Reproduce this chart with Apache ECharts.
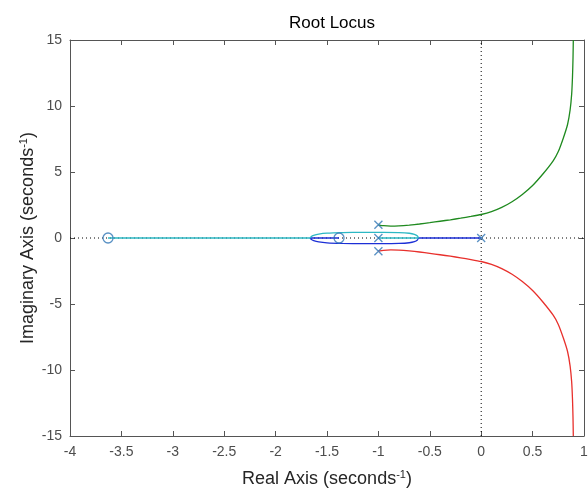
<!DOCTYPE html>
<html>
<head>
<meta charset="utf-8">
<script src="https://cdn.jsdelivr.net/npm/echarts@6/dist/echarts.min.js"></script>
<style>
  html, body { margin: 0; padding: 0; background: #fff; }
  #chart { width: 588px; height: 491px; }
</style>
</head>
<body>
<div id="chart"></div>
<script>
// Open-loop poles and zeros
const poleRe = [0, -1, -1, -1];
const poleIm = [0, 0, 1, -1];
const zeroRe = [-3.63, -1.383];
const zeroIm = [0, 0];

// Branch 1 (blue): pole at 0 -> breakaway -> lower loop -> zero at -1.383
const blueRe = [0, -0.61, -0.62, -0.65, -0.7, -0.8, -0.95, -1.15, -1.35, -1.5, -1.58, -1.63, -1.655, -1.665, -1.383];
const blueIm = [0, 0, -0.15, -0.28, -0.36, -0.41, -0.43, -0.43, -0.41, -0.37, -0.3, -0.2, -0.1, 0, 0];

// Branch 4 (cyan): pole at -1 -> breakaway -> upper loop -> zero at -3.63
const cyanRe = [-1, -0.61, -0.62, -0.65, -0.7, -0.8, -0.95, -1.15, -1.35, -1.5, -1.58, -1.63, -1.655, -1.665, -3.63];
const cyanIm = [0, 0, 0.15, 0.28, 0.36, 0.41, 0.43, 0.43, 0.41, 0.37, 0.3, 0.2, 0.1, 0, 0];

// Branch 2 (green): pole at -1+j -> vertical asymptote
const greenRe = [-1, -0.95, -0.88, -0.8, -0.7, -0.6, -0.5, -0.4, -0.3, -0.2, -0.1, 0, 0.1, 0.2, 0.3, 0.4, 0.5, 0.6, 0.7, 0.75, 0.8, 0.84, 0.865, 0.88, 0.888, 0.893, 0.896];
const greenIm = [1, 0.93, 0.9, 0.92, 0.98, 1.06, 1.16, 1.27, 1.38, 1.5, 1.63, 1.78, 2.0, 2.32, 2.75, 3.3, 3.98, 4.85, 5.85, 6.55, 7.6, 8.6, 9.7, 10.9, 12.2, 13.6, 15];

// Branch 3 (red): pole at -1-j -> vertical asymptote
const redRe = [-1, -0.95, -0.88, -0.8, -0.7, -0.6, -0.5, -0.4, -0.3, -0.2, -0.1, 0, 0.1, 0.2, 0.3, 0.4, 0.5, 0.6, 0.7, 0.75, 0.8, 0.84, 0.865, 0.88, 0.888, 0.893, 0.896];
const redIm = [-1, -0.93, -0.9, -0.92, -0.98, -1.06, -1.16, -1.27, -1.38, -1.5, -1.63, -1.78, -2.0, -2.32, -2.75, -3.3, -3.98, -4.85, -5.85, -6.55, -7.6, -8.6, -9.7, -10.9, -12.2, -13.6, -15];

const xMin = -4, xMax = 1, xStep = 0.5;
const yMin = -15, yMax = 15, yStep = 5;

const zip = (a, b) => a.map((v, i) => [v, b[i]]);

const axisColor = '#555';
const labelColor = '#4d4d4d';
const markColor = '#2f76b5';
const font = 'Liberation Sans, Arial, Helvetica, sans-serif';

const supRich = {
  sup: { fontSize: 11, fontFamily: font, color: '#262626', padding: [0, 0, 9, 0] }
};

function xAxisDef(pos, showLabel) {
  return {
    type: 'value', position: pos, min: xMin, max: xMax, interval: xStep,
    axisLine: { show: true, onZero: false, lineStyle: { color: axisColor, width: 1 } },
    axisTick: { show: true, inside: true, length: 5, lineStyle: { color: axisColor } },
    axisLabel: { show: showLabel, color: labelColor, fontSize: 14, fontFamily: font, margin: 9 },
    splitLine: { show: false }
  };
}
function yAxisDef(pos, showLabel) {
  return {
    type: 'value', position: pos, min: yMin, max: yMax, interval: yStep,
    axisLine: { show: true, onZero: false, lineStyle: { color: axisColor, width: 1 } },
    axisTick: { show: true, inside: true, length: 5, lineStyle: { color: axisColor } },
    axisLabel: { show: showLabel, color: labelColor, fontSize: 14, fontFamily: font, margin: 8 },
    splitLine: { show: false }
  };
}

const xBottom = Object.assign(xAxisDef('bottom', true), {
  name: 'Real Axis (seconds{sup|-1})',
  nameLocation: 'middle', nameGap: 33, nameMoveOverlap: false,
  nameTextStyle: { color: '#262626', fontSize: 18, fontFamily: font, rich: supRich }
});
const yLeft = Object.assign(yAxisDef('left', true), {
  name: 'Imaginary Axis (seconds{sup|-1})',
  nameLocation: 'middle', nameGap: 32, nameRotate: 90, nameMoveOverlap: false,
  nameTextStyle: { color: '#262626', fontSize: 18, fontFamily: font, rich: supRich }
});

function branch(re, im, color) {
  return {
    type: 'line', data: zip(re, im), showSymbol: false, smooth: 0.2,
    lineStyle: { color: color, width: 1.3 }, z: 3, silent: true
  };
}

const crossPath = 'path://M0,0L10,10M10,0L0,10';

const option = {
  animation: false,
  backgroundColor: '#fff',
  title: {
    text: 'Root Locus', left: 327, top: 10, textAlign: 'center',
    textStyle: { color: '#000', fontSize: 17, fontWeight: 'normal', fontFamily: font }
  },
  grid: { left: 70, right: 4, top: 40, bottom: 55, outerBoundsMode: 'none' },
  xAxis: [xBottom, xAxisDef('top', false)],
  yAxis: [yLeft, yAxisDef('right', false)],
  series: [
    // dotted reference lines through the origin
    {
      type: 'line', data: [[xMin, 0], [xMax, 0]], showSymbol: false, silent: true, z: 1,
      lineStyle: { color: '#000', width: 1, type: [1, 3] }
    },
    {
      type: 'line', data: [[0, yMin], [0, yMax]], showSymbol: false, silent: true, z: 1,
      lineStyle: { color: '#000', width: 1, type: [1, 3] }
    },
    branch(blueRe, blueIm, '#1c2fd6'),
    branch(greenRe, greenIm, '#1f8a1f'),
    branch(redRe, redIm, '#e8302c'),
    branch(cyanRe, cyanIm, '#2cb8c4'),
    {
      type: 'scatter', data: zip(poleRe, poleIm), symbol: crossPath, symbolSize: 8, z: 5, silent: true,
      itemStyle: { color: 'none', borderColor: markColor, borderWidth: 1.3 }
    },
    {
      type: 'scatter', data: zip(zeroRe, zeroIm), symbol: 'circle', symbolSize: 10, z: 5, silent: true,
      itemStyle: { color: 'rgba(0,0,0,0)', borderColor: markColor, borderWidth: 1.3 }
    }
  ]
};

const chart = echarts.init(document.getElementById('chart'), null, { renderer: 'canvas' });
chart.setOption(option);
</script>
</body>
</html>
